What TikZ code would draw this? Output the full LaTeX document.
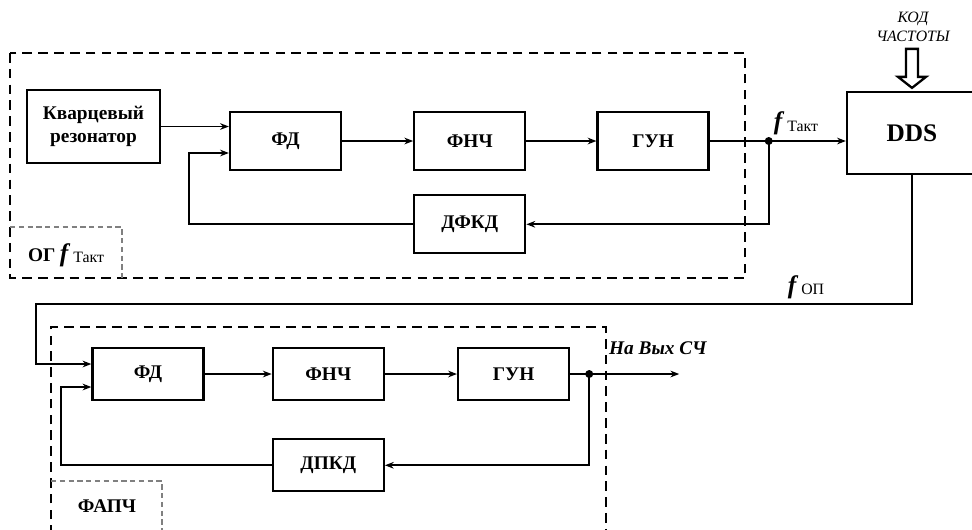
\documentclass[tikz,border=0pt]{standalone}
\usepackage{fontspec}
\setmainfont{Liberation Serif}
\usepackage{tikz}
\usetikzlibrary{arrows.meta, positioning, calc}
\newcommand{\fsub}[1]{{\Large\textbf{\textit{f}}}\,\raisebox{-0.2ex}{\small #1}}

\begin{document}
\begin{tikzpicture}[
    block/.style={rectangle, draw, line width=1.3pt, minimum width=2.22cm, minimum height=1.16cm, inner sep=0pt, align=center, font=\bfseries\fontsize{11}{13}\selectfont},
    lowblock/.style={block, minimum height=1.04cm},
    arrow/.style={-{Stealth[length=5pt,width=3.8pt]}, line width=1pt},
    wire/.style={line width=1pt},
    frame/.style={dashed, dash pattern=on 5.5pt off 3.5pt, line width=0.8pt},
    subframe/.style={dash pattern=on 3pt off 2pt, line width=0.6pt, gray},
    label/.style={inner sep=1pt, align=center}
]
\clip (0,0) rectangle (19.44,-10.58);

% reference oscillator loop
\node[block, minimum width=2.66cm, minimum height=1.46cm] (kvarc) at (1.87,-2.53) {Кварцевый\\резонатор};
\node[block] (fd1) at (5.71,-2.82) {ФД};
\node[block, right=1.42cm of fd1] (fnch1) {ФНЧ};
\node[block, right=1.4cm of fnch1] (gun1) {ГУН};
\node[block, below=0.46cm of fnch1] (dfkd) {ДФКД};
\coordinate[right=1.18cm of gun1.east] (j1);

% synthesizer core
\node[block, minimum width=2.6cm, minimum height=1.64cm, font=\bfseries\Large] (dds) at (18.24,-2.66) {DDS};
\node[label, font=\small\itshape] (kod) at (18.26,-0.54) {КОД\\ЧАСТОТЫ};

% PLL loop
\node[lowblock] (fd2) at (2.96,-7.48) {ФД};
\node[lowblock, right=1.34cm of fd2] (fnch2) {ФНЧ};
\node[lowblock, right=1.44cm of fnch2] (gun2) {ГУН};
\node[lowblock, below=0.74cm of fnch2] (dpkd) {ДПКД};
\coordinate[right=0.38cm of gun2.east] (j2);
\coordinate[right=1.8cm of j2] (out);
\coordinate (bend) at (0.72,-6.08);

% Arrows
\draw[arrow] (kvarc.east) -- (kvarc.east -| fd1.west);
\draw[arrow] (fd1) -- (fnch1);
\draw[arrow] (fnch1) -- (gun1);
\draw[wire] (gun1) -- (j1);
\draw[arrow] (j1) -- (j1 -| dds.west);
\draw[arrow] (j1) |- (dfkd.east);
\draw[arrow] (dfkd.west) -| ([xshift=-0.8cm,yshift=-0.24cm]fd1.west) -- ([yshift=-0.24cm]fd1.west);
\fill (j1) circle (0.08);

\draw[arrow] (dds.south) |- (bend) |- ([yshift=0.2cm]fd2.west);
\draw[arrow] (fd2) -- (fnch2);
\draw[arrow] (fnch2) -- (gun2);
\draw[wire] (gun2) -- (j2);
\draw[arrow] (j2) -- (out);
\draw[arrow] (j2) |- (dpkd.east);
\draw[arrow] (dpkd.west) -| ([xshift=-0.6cm,yshift=-0.26cm]fd2.west) -- ([yshift=-0.26cm]fd2.west);
\fill (j2) circle (0.08);

% code input
\draw[line width=1.3pt] ([yshift=0.06cm]dds.north) -- ++(-0.28,0.22) -- ++(0.16,0) -- ++(0,0.56) -- ++(0.24,0) -- ++(0,-0.56) -- ++(0.16,0) -- cycle;

% signal labels
\node[label, above right=0.08cm and 0.06cm of j1] (ftakt) {\fsub{Такт}};
\node[label] (fop) at (16.12,-5.74) {\fsub{ОП}};
\node[label, anchor=west, font=\bfseries\itshape\fontsize{11}{13}\selectfont] (vyh) at (12.14,-6.96) {На Вых СЧ};

% frames
\draw[frame] (0.2,-1.06) rectangle (14.9,-5.56);
\draw[subframe] (0.2,-4.54) -| (2.44,-5.56);
\node[label] (og) at (1.32,-5.1) {\textbf{\fontsize{11}{13}\selectfont ОГ} \fsub{Такт}};

\draw[frame] (1.02,-10.7) |- (12.12,-6.54) -- (12.12,-10.7);
\draw[subframe] (1.02,-9.62) -| (3.24,-10.7);
\node[label, font=\bfseries\fontsize{11}{13}\selectfont] (fapch) at (2.14,-10.12) {ФАПЧ};

\end{tikzpicture}
\end{document}
